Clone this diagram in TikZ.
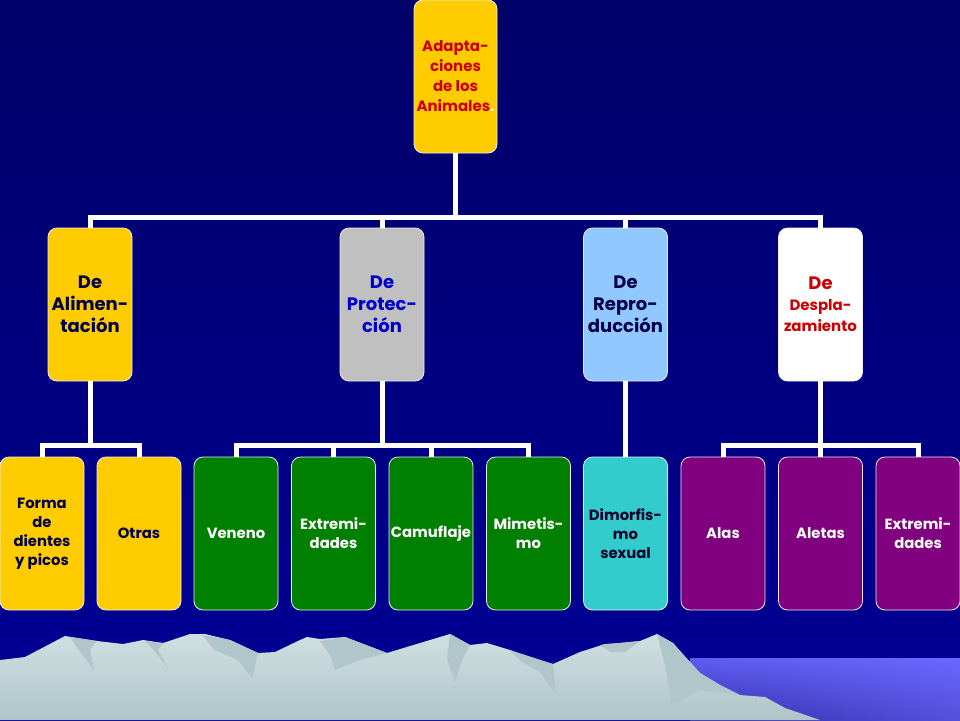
\documentclass[tikz,border=0pt]{standalone}
\usepackage{fontspec}
\usetikzlibrary{shadings}
\setmainfont{Poppins}
\definecolor{bgtop}{RGB}{0,0,104}
\definecolor{bgbot}{RGB}{0,0,150}
\definecolor{yel}{RGB}{255,204,0}
\definecolor{redt}{RGB}{204,0,0}
\definecolor{navyt}{RGB}{0,0,70}
\definecolor{bluet}{RGB}{0,0,204}
\definecolor{grayb}{RGB}{192,192,192}
\definecolor{lblue}{RGB}{145,200,255}
\definecolor{greenb}{RGB}{0,128,0}
\definecolor{cyanb}{RGB}{51,204,204}
\definecolor{purpb}{RGB}{128,0,128}
\definecolor{darkt}{RGB}{0,0,40}
\definecolor{mtop}{RGB}{208,223,226}
\definecolor{mbot}{RGB}{174,197,200}
\definecolor{mshadow}{RGB}{176,198,202}
\definecolor{lakeul}{RGB}{92,92,240}
\definecolor{lakeur}{RGB}{104,104,255}
\definecolor{lakell}{RGB}{52,48,170}
\definecolor{lakelr}{RGB}{84,80,220}
\tikzset{
  box/.style={rectangle, rounded corners=9pt, draw=white!85!gray, line width=0.8pt,
    minimum width=84pt, minimum height=153pt, inner sep=1pt, align=center, font=\bfseries},
  rootbox/.style={box, fill=yel, text=redt, minimum width=83pt, font=\bfseries\fontsize{15}{20}\selectfont},
  lvtwo/.style={box, font=\bfseries\fontsize{18}{22}\selectfont},
  lvthree/.style={box, font=\bfseries\fontsize{14.8}{19}\selectfont},
  conn/.style={draw=white, line width=5pt, line join=miter, line cap=butt}
}
\begin{document}
\begin{tikzpicture}[x=1pt,y=-1pt]
\useasboundingbox (0,0) rectangle (960,720);
\shade[top color=bgtop,bottom color=bgbot] (0,0) rectangle (960,720);
% lake
\shade[upper left=lakeul, upper right=lakeur, lower left=lakell, lower right=lakelr]
  (690,658) rectangle (960,720);
% mountains
\shade[top color=mtop, bottom color=mbot]
  (0,660) -- (25,657) -- (65,636) -- (97,641) -- (123,644) -- (143,640) -- (163,643)
  -- (190,634) -- (205,634) -- (230,640) -- (258,653) -- (275,652) -- (300,640)
  -- (307,637) -- (320,639) -- (345,637) -- (387,653) -- (420,643) -- (450,634)
  -- (470,645) -- (487,643) -- (510,650) -- (530,658) -- (553,664) -- (580,652)
  -- (605,644) -- (620,643) -- (640,641) -- (657,634) -- (673,643) -- (685,657)
  -- (700,673) -- (720,685) -- (740,695) -- (765,697) -- (785,708) -- (820,720)
  -- (0,720) -- cycle;
\fill[mshadow] (70,637) -- (97,641) -- (90,649) -- (94,670) -- (78,649) -- cycle;
\fill[mshadow] (145,641) -- (163,643) -- (158,650) -- (168,668) -- (152,648) -- cycle;
\fill[mshadow] (203,635) -- (230,640) -- (258,653) -- (252,678) -- (238,660) -- (214,650) -- cycle;
\fill[mshadow] (320,641) -- (345,637) -- (387,653) -- (360,660) -- (335,670) -- (330,655) -- cycle;
\fill[mshadow] (450,634) -- (470,645) -- (462,660) -- (455,682) -- (447,658) -- cycle;
\fill[mshadow] (510,650) -- (553,664) -- (556,695) -- (540,672) -- (522,662) -- cycle;
\fill[mshadow] (600,645) -- (620,643) -- (640,641) -- (625,652) -- (610,652) -- cycle;
\fill[mshadow] (657,634) -- (673,643) -- (700,673) -- (720,685) -- (740,695) -- (700,690)
  -- (672,705) -- (665,665) -- cycle;
% nodes
\node[rootbox] (root) at (455.5,76.5) {Adapta-\\ciones\\de los\\Animales{\color{white}.}};
\node[lvtwo, fill=yel, text=navyt] (alim) at (90,304.5) {De\\Alimen-\\tación};
\node[lvtwo, fill=grayb, text=bluet] (prot) at (382,304.5) {De\\Protec-\\ción};
\node[lvtwo, fill=lblue, text=navyt] (repr) at (625.5,304.5) {De\\Repro-\\ducción};
\node[box, fill=white, text=redt, font=\bfseries\fontsize{15}{21}\selectfont] (desp) at (820.5,304.5)
  {{\fontsize{18}{21}\selectfont De}\\Despla-\\zamiento};
\node[lvthree, fill=yel, text=navyt] (forma) at (42,533.5) {Forma\\de\\dientes\\y picos};
\node[lvthree, fill=yel, text=navyt] (otras) at (139,533.5) {Otras};
\node[lvthree, fill=greenb, text=white] (vene) at (236,533.5) {Veneno};
\node[lvthree, fill=greenb, text=white] (extp) at (333.5,533.5) {Extremi-\\dades};
\node[lvthree, fill=greenb, text=white] (camu) at (431,533.5) {Camuflaje};
\node[lvthree, fill=greenb, text=white] (mime) at (528.5,533.5) {Mimetis-\\mo};
\node[lvthree, fill=cyanb, text=darkt] (dimo) at (625.5,533.5) {Dimorfis-\\mo\\sexual};
\node[lvthree, fill=purpb, text=white] (alas) at (723,533.5) {Alas};
\node[lvthree, fill=purpb, text=white] (alet) at (820.5,533.5) {Aletas};
\node[lvthree, fill=purpb, text=white] (extd) at (918,533.5) {Extremi-\\dades};
% connectors level 2
\coordinate (busa) at (455.5,217);
\draw[conn] (root.south) -- (busa);
\draw[conn] (alim.north) -- (alim.north |- busa) -- (desp.north |- busa) -- (desp.north);
\draw[conn] (prot.north) -- (prot.north |- busa);
\draw[conn] (repr.north) -- (repr.north |- busa);
% connectors level 3
\coordinate (busb) at (0,445);
\draw[conn] (alim.south) -- (alim.south |- busb);
\draw[conn] (forma.north) -- (forma.north |- busb) -- (otras.north |- busb) -- (otras.north);
\draw[conn] (prot.south) -- (prot.south |- busb);
\draw[conn] (vene.north) -- (vene.north |- busb) -- (mime.north |- busb) -- (mime.north);
\draw[conn] (extp.north) -- (extp.north |- busb);
\draw[conn] (camu.north) -- (camu.north |- busb);
\draw[conn] (repr.south) -- (dimo.north);
\draw[conn] (desp.south) -- (desp.south |- busb);
\draw[conn] (alas.north) -- (alas.north |- busb) -- (extd.north |- busb) -- (extd.north);
\draw[conn] (alet.north) -- (alet.north |- busb);
\end{tikzpicture}
\end{document}
